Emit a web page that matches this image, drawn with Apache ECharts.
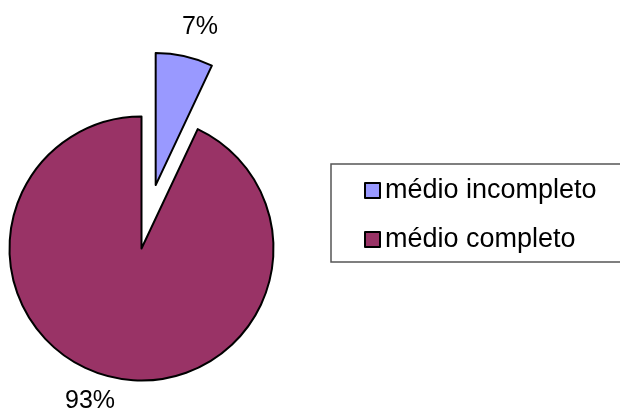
<!DOCTYPE html>
<html>
<head>
<meta charset="utf-8">
<style>
  html, body { margin: 0; padding: 0; background: #fff; }
  #chart { width: 620px; height: 415px; }
</style>
<script src="https://cdn.jsdelivr.net/npm/echarts@6/dist/echarts.min.js"></script>
</head>
<body>
<div id="chart"></div>
<script>
// Education level shares
const categories = ['médio incompleto', 'médio completo'];
const values = [7, 93];
const sliceColors = ['#9999FF', '#993366'];

const chart = echarts.init(document.getElementById('chart'), null, { renderer: 'canvas' });

const FONT = 'Liberation Sans, Arial, sans-serif';
const center = [141.5, 248.5];
const radius = 132;
const pullOut = 65;            // distance the first slice is pulled from the centre
const pulledIndex = 0;

// Direction of the pulled slice's middle angle (start at 12 o'clock, clockwise)
const total = values.reduce((a, b) => a + b, 0);
const midDeg = 90 - (360 * values[pulledIndex] / total) / 2;
const midRad = midDeg * Math.PI / 180;
const pulledCenter = [
  center[0] + pullOut * Math.cos(midRad),
  center[1] - pullOut * Math.sin(midRad)
];

// Fixed spots for the percentage labels
const labelSpots = [
  { x: 200, y: 27 },
  { x: 90, y: 401 }
];

// One pie layer per slice position: the layer draws only the slices it owns
function pieLayer(layerCenter, ownsSlice) {
  return {
    type: 'pie',
    center: layerCenter,
    radius: radius,
    startAngle: 90,
    clockwise: true,
    avoidLabelOverlap: false,
    silent: true,
    emphasis: { disabled: true },
    labelLine: { show: false },
    labelLayout: function (params) {
      const s = labelSpots[params.dataIndex];
      return { x: s.x, y: s.y, align: 'center', verticalAlign: 'middle' };
    },
    data: categories.map((name, i) => {
      const own = ownsSlice(i);
      return {
        name: name,
        value: values[i],
        itemStyle: own
          ? { color: sliceColors[i], borderColor: '#000', borderWidth: 2 }
          : { color: 'rgba(0,0,0,0)', borderWidth: 0 },
        label: {
          show: own,
          position: 'outside',
          formatter: '{d}%',
          fontSize: 25,
          color: '#000',
          fontFamily: FONT
        }
      };
    })
  };
}

chart.setOption({
  animation: false,
  backgroundColor: '#ffffff',
  textStyle: { fontFamily: FONT },
  legend: {
    orient: 'vertical',
    left: 331,
    top: 164,
    icon: 'rect',
    itemWidth: 15,
    itemHeight: 15,
    itemGap: 22,
    padding: [13, 60, 9, 33],
    borderColor: '#555',
    borderWidth: 1.5,
    selectedMode: false,
    textStyle: { fontSize: 27, color: '#000', fontFamily: FONT },
    data: categories.map((name, i) => ({
      name: name,
      itemStyle: { color: sliceColors[i], borderColor: '#000', borderWidth: 2 }
    }))
  },
  series: [
    pieLayer(center, i => i !== pulledIndex),
    pieLayer(pulledCenter, i => i === pulledIndex)
  ]
});
</script>
</body>
</html>
